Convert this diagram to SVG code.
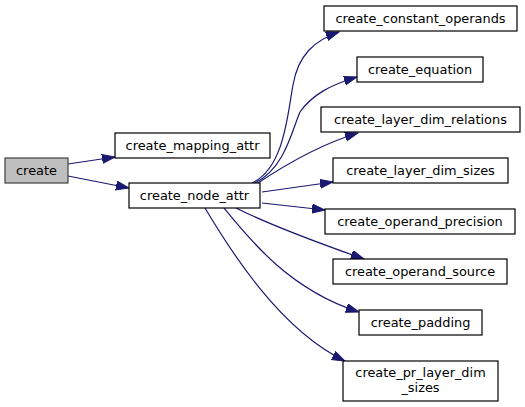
<svg xmlns="http://www.w3.org/2000/svg" width="525" height="407" viewBox="0 0 525 407">
<defs>
<style>
.node rect{fill:#ffffff;stroke:#000000;stroke-width:1.2}
.node.root rect{fill:#bfbfbf;stroke:#404040}
.node text{font-family:"DejaVu Sans",sans-serif;font-size:12.9px;text-anchor:middle;fill:#000000}
.edges path{fill:none;stroke:#191970;stroke-width:1.2;marker-end:url(#arr)}
</style>
<marker id="arr" markerUnits="userSpaceOnUse" markerWidth="15" markerHeight="11" refX="13" refY="4.5" orient="auto">
<path d="M0,0 L13,4.5 L0,9 z" fill="#191970" stroke="#191970" stroke-width="1"/>
</marker>
</defs>
<rect width="525" height="407" fill="#ffffff"/>
<g class="edges">
<path d="M68,164 L115,157"/>
<path d="M68,176 L129,188"/>
<path d="M252,183 C285,168 288,110 293,85 C298,55 315,40 339,32"/>
<path d="M255,183 C285,168 292,130 300,112 C312,95 330,85 357,77"/>
<path d="M258,183 C285,165 318,145 358,133"/>
<path d="M262,192 L333,182"/>
<path d="M262,203 L325,210"/>
<path d="M236,208 C260,220 310,240 364,259"/>
<path d="M224,208 C250,240 290,290 359,312"/>
<path d="M205,208 C230,250 280,330 345,361"/>
</g>
<g id="node-create" class="node root"><rect x="5" y="158" width="63" height="25"/><text x="36.5" y="175">create</text></g>
<g id="node-create_mapping_attr" class="node"><rect x="115" y="133" width="155" height="25"/><text x="192.5" y="150">create_mapping_attr</text></g>
<g id="node-create_node_attr" class="node"><rect x="129" y="183" width="131" height="25"/><text x="194.5" y="200">create_node_attr</text></g>
<g id="node-create_constant_operands" class="node"><rect x="324" y="6" width="193" height="25"/><text x="420.5" y="23">create_constant_operands</text></g>
<g id="node-create_equation" class="node"><rect x="357" y="57" width="126" height="25"/><text x="420" y="74">create_equation</text></g>
<g id="node-create_layer_dim_relations" class="node"><rect x="321" y="107" width="199" height="25"/><text x="420.5" y="124">create_layer_dim_relations</text></g>
<g id="node-create_layer_dim_sizes" class="node"><rect x="333" y="158" width="175" height="25"/><text x="420.5" y="175">create_layer_dim_sizes</text></g>
<g id="node-create_operand_precision" class="node"><rect x="325" y="209" width="190" height="25"/><text x="420" y="226">create_operand_precision</text></g>
<g id="node-create_operand_source" class="node"><rect x="333" y="259" width="174" height="25"/><text x="420" y="276">create_operand_source</text></g>
<g id="node-create_padding" class="node"><rect x="359" y="310" width="123" height="25"/><text x="420.5" y="327">create_padding</text></g>
<g id="node-create_pr_layer_dim_sizes" class="node"><rect x="343" y="361" width="155" height="40"/><text x="420.5" y="377">create_pr_layer_dim</text><text x="420.5" y="392">_sizes</text></g>
</svg>
